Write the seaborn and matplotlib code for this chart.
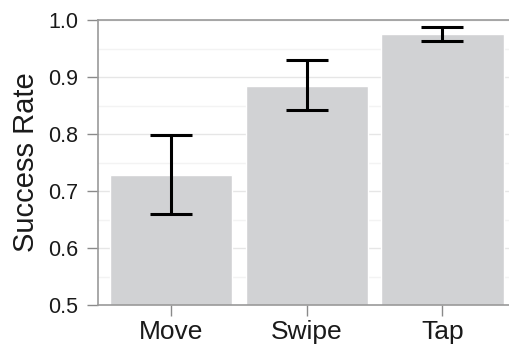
import matplotlib
matplotlib.use("Agg")
import matplotlib.pyplot as plt
from matplotlib.ticker import MultipleLocator
import seaborn as sns
import pandas as pd
import numpy as np

# Gesture success rates with confidence intervals
gestures = ["Move", "Swipe", "Tap"]
success_rate = [0.728, 0.885, 0.975]
ci_low = [0.659, 0.842, 0.964]
ci_high = [0.798, 0.930, 0.987]

sns.set_theme(style="white")
plt.rcParams["font.family"] = ["Liberation Sans", "DejaVu Sans"]

df = pd.DataFrame({"Gesture": gestures, "Success Rate": success_rate})

fig = plt.figure(figsize=(5.09, 3.46), dpi=100)
ax = fig.add_axes([0.1925, 0.1185, 0.8075, 0.8235])

# grid underneath everything
ax.set_axisbelow(True)
ax.yaxis.set_minor_locator(MultipleLocator(0.05))
ax.grid(which="major", axis="both", color="#e6e6e6", linewidth=1.0)
ax.grid(which="minor", axis="y", color="#f3f3f3", linewidth=1.0)

sns.barplot(data=df, x="Gesture", y="Success Rate", color="#d1d2d4",
            saturation=1, width=0.9, errorbar=None, ax=ax, zorder=2)

vals = np.array(success_rate)
yerr = np.vstack([vals - np.array(ci_low), np.array(ci_high) - vals])
ax.errorbar(np.arange(len(gestures)), vals, yerr=yerr, fmt="none",
            ecolor="black", elinewidth=2.2, capsize=14.8, capthick=2.2, zorder=3)

ax.set_ylim(0.5, 1.0)
ax.set_xlim(-0.537, 2.49)
ax.set_yticks([0.5, 0.6, 0.7, 0.8, 0.9, 1.0])
ax.set_yticklabels(["0.5", "0.6", "0.7", "0.8", "0.9", "1.0"])
ax.set_xlabel("")
ax.set_ylabel("Success Rate", fontsize=21, color="#1a1a1a", labelpad=6)

ax.tick_params(axis="y", which="major", length=8, width=1, color="#8a8a8a",
               labelsize=15.5, labelcolor="#1a1a1a", pad=6, left=True)
ax.tick_params(axis="y", which="minor", length=0)
ax.tick_params(axis="x", length=8, width=1, color="#8a8a8a",
               labelsize=19, labelcolor="#1a1a1a", pad=3, bottom=True)

for side in ["left", "bottom", "top"]:
    ax.spines[side].set_visible(True)
    ax.spines[side].set_color("#9a9a9a")
    ax.spines[side].set_linewidth(1.2)
ax.spines["right"].set_visible(False)

fig.savefig("out.png", dpi=100)
